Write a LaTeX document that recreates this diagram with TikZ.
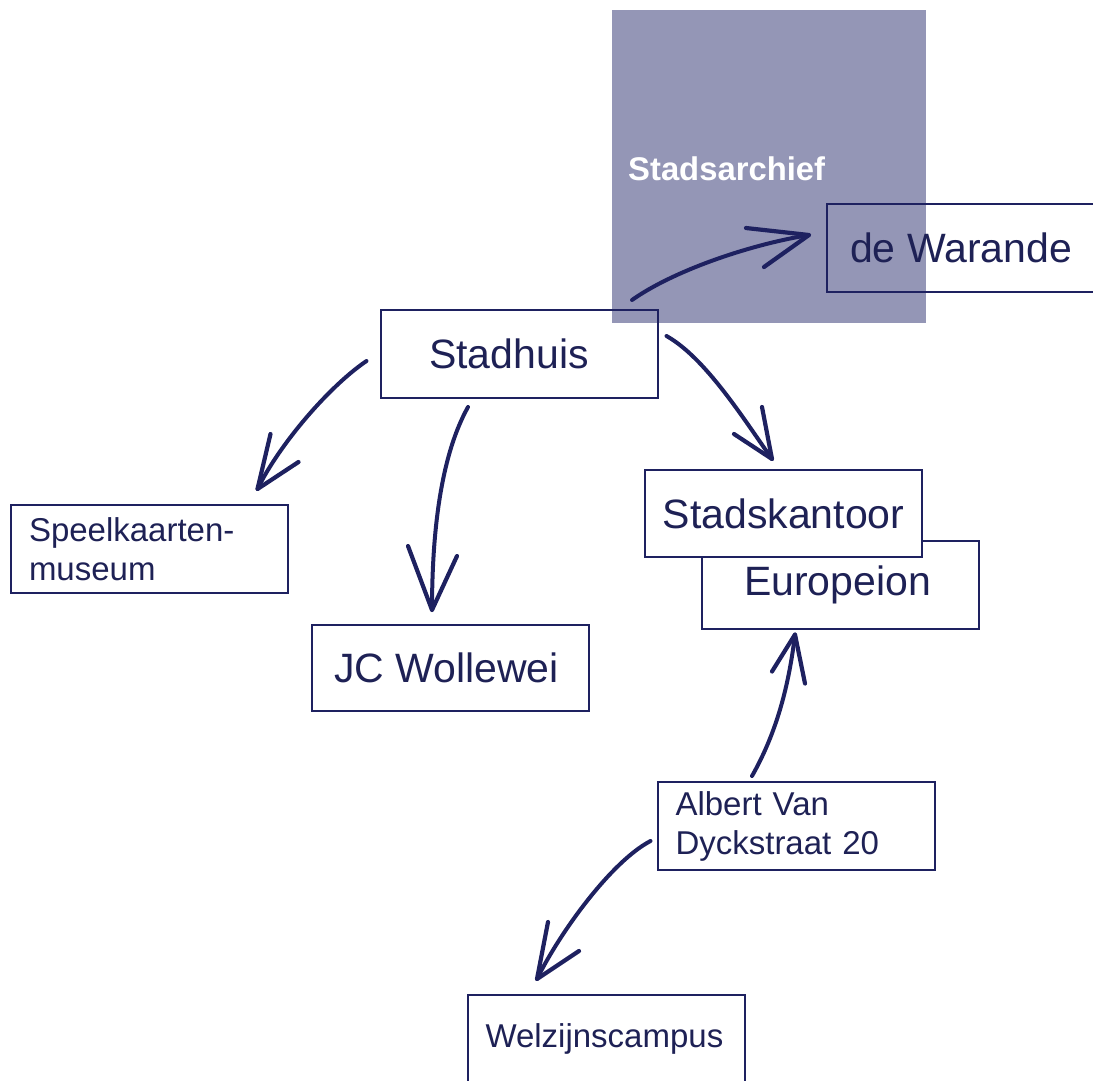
\documentclass[tikz,border=0pt]{standalone}
\usepackage{fontspec}
\setmainfont{Liberation Sans}
\usetikzlibrary{calc}
\definecolor{navy}{RGB}{30,33,96}
\definecolor{navytext}{RGB}{30,33,85}
\definecolor{archief}{RGB}{148,150,182}
\tikzset{
  box/.style={draw=navy, line width=2pt, inner sep=0pt, text=navytext,
    minimum width=277pt, minimum height=88pt},
  bigtxt/.style={font=\fontsize{41}{47}\selectfont},
  smalltxt/.style={font=\fontsize{33}{39}\selectfont, align=left,
    text width=241pt, inner xsep=18pt},
  conn/.style={draw=navy, line width=4pt, line cap=round},
  barb/.style={draw=navy, line width=4.2pt, line cap=round, line join=round},
}
\begin{document}
\begin{tikzpicture}[x=1pt, y=-1pt]
\useasboundingbox (0,0) rectangle (1093,1080);
% Stadsarchief background block
\fill[archief] (612,10) rectangle (926,323);
\node[anchor=base west, text=white, font=\bfseries\fontsize{32.8}{38}\selectfont, inner sep=0pt]
  (archieftxt) at (628,180) {Stadsarchief};

% boxes
\node[box, bigtxt, minimum width=290pt] (warande) at (972,248) {\hspace*{-22pt}de Warande};
\node[box, bigtxt] (stadhuis) at (519,354) {\hspace*{-20pt}Stadhuis};
\node[box, smalltxt] (speel) at (149.5,549) {Speelkaarten-\\museum};
\node[box, bigtxt, minimum height=86pt] (jc) at (450.5,668) {\hspace*{-8pt}JC Wollewei};
\node[box, bigtxt] (europeion) at (840.5,584.5) {\hspace*{-6pt}\raisebox{-3pt}{Europeion}};
\node[box, bigtxt, fill=white, minimum height=87pt] (kantoor) at (783.5,513.5) {Stadskantoor};
\node[box, smalltxt] (albert) at (796,826) {Albert Van\\Dyckstraat 20};
\node[box, smalltxt] (welzijn) at (606,1039) {Welzijnscampus};

% connector end points
\coordinate (s1) at ([shift={(113,-54)}]stadhuis.center);
\coordinate (t1) at ([shift={(-17,-13)}]warande.west);
\coordinate (s2) at ([shift={(-13,7)}]stadhuis.west);
\coordinate (t2) at ([shift={(-31.5,-15)}]speel.north east);
\coordinate (s3) at ([shift={(-51,8)}]stadhuis.south);
\coordinate (t3) at ([shift={(-18.5,-14)}]jc.north);
\coordinate (s4) at ([shift={(8,-18)}]stadhuis.east);
\coordinate (t4) at ([shift={(-11.5,-10)}]kantoor.north);
\coordinate (s5) at ([shift={(-44,-5)}]albert.north);
\coordinate (t5) at ([shift={(-45.5,5)}]europeion.south);
\coordinate (s6) at ([shift={(-6,15)}]albert.west);
\coordinate (t6) at ([shift={(-69,-15)}]welzijn.north);

% connectors
\draw[conn] (s1) .. controls +(41,-29) and +(-61,10) .. (t1);
\draw[barb] ([shift={(-63,-7)}]t1) -- (t1) -- ([shift={(-45,32)}]t1);

\draw[conn] (s2) .. controls +(-37,25) and +(22,-45) .. (t2);
\draw[barb] ([shift={(13,-55)}]t2) -- (t2) -- ([shift={(41,-27)}]t2);

\draw[conn] (s3) .. controls +(-29,52) and +(0,-70) .. (t3);
\draw[barb] ([shift={(-24,-64)}]t3) -- (t3) -- ([shift={(25,-54)}]t3);

\draw[conn] (s4) .. controls +(39,22) and +(-29,-41) .. (t4);
\draw[barb] ([shift={(-10,-52)}]t4) -- (t4) -- ([shift={(-38,-25)}]t4);

\draw[conn] (s5) .. controls +(25,-44) and +(-6,50) .. (t5);
\draw[barb] ([shift={(-23,37)}]t5) -- (t5) -- ([shift={(10,49)}]t5);

\draw[conn] (s6) .. controls +(-40,21) and +(22,-45) .. (t6);
\draw[barb] ([shift={(11,-57)}]t6) -- (t6) -- ([shift={(42,-28)}]t6);
\end{tikzpicture}
\end{document}
